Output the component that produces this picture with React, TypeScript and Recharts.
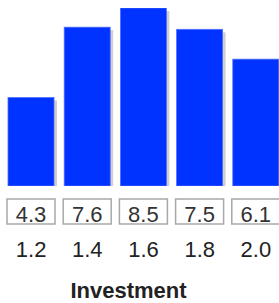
import { BarChart, Bar, XAxis, YAxis, LabelList } from "recharts";

const investment = ["1.2", "1.4", "1.6", "1.8", "2.0"];
const returns = [4.3, 7.6, 8.5, 7.5, 6.1];

const data = investment.map((inv, i) => ({ inv, value: returns[i] }));

const FONT = "'Liberation Sans', Arial, sans-serif";

function ShadowBar(props: any) {
  const { x, y, width, height } = props;
  if (height <= 0) return null;
  return (
    <g>
      <rect x={x + 3} y={y + 3} width={width} height={height - 3} fill="#cfcfcf" />
      <rect x={x} y={y} width={width} height={height} fill="#0033ff" stroke="#4f6dff" strokeWidth={0.8} />
    </g>
  );
}

function ValueBox(props: any) {
  const { x, y, width, height, value } = props;
  const base = y + height;
  return (
    <g>
      <rect x={x - 1} y={base + 13} width={width + 2} height={25} fill="#fff" stroke="#a8a8a8" strokeWidth={1.5} />
      <text x={x + width / 2} y={base + 36} textAnchor="middle" fontSize={22} fontFamily={FONT} fill="#333">
        {value}
      </text>
    </g>
  );
}

function InvTick(props: any) {
  const { x, y, payload } = props;
  return (
    <text x={x} y={y + 63} textAnchor="middle" fontSize={22} fontFamily={FONT} fill="#222">
      {payload.value}
    </text>
  );
}

export default function App() {
  return (
    <div style={{ position: "absolute", left: 0, top: 0, width: 279, height: 303, overflow: "hidden", background: "#fff" }}>
      <BarChart width={287} height={303} data={data} margin={{ top: 8, right: 3, bottom: 0, left: 3 }}>
        <XAxis
          dataKey="inv"
          height={117}
          axisLine={false}
          tickLine={false}
          tick={<InvTick />}
          interval={0}
          label={(p: any) => {
            const vb = p.viewBox;
            return (
              <text x={vb.x + vb.width / 2 - 15} y={vb.y + vb.height - 5} textAnchor="middle" fontSize={22} fontWeight="bold" fontFamily={FONT} fill="#222">
                Investment
              </text>
            );
          }}
        />
        <YAxis hide domain={[0.15, 8.5]} allowDataOverflow />
        <Bar dataKey="value" barSize={46} shape={<ShadowBar />} isAnimationActive={false}>
          <LabelList dataKey="value" content={<ValueBox />} />
        </Bar>
      </BarChart>
    </div>
  );
}
